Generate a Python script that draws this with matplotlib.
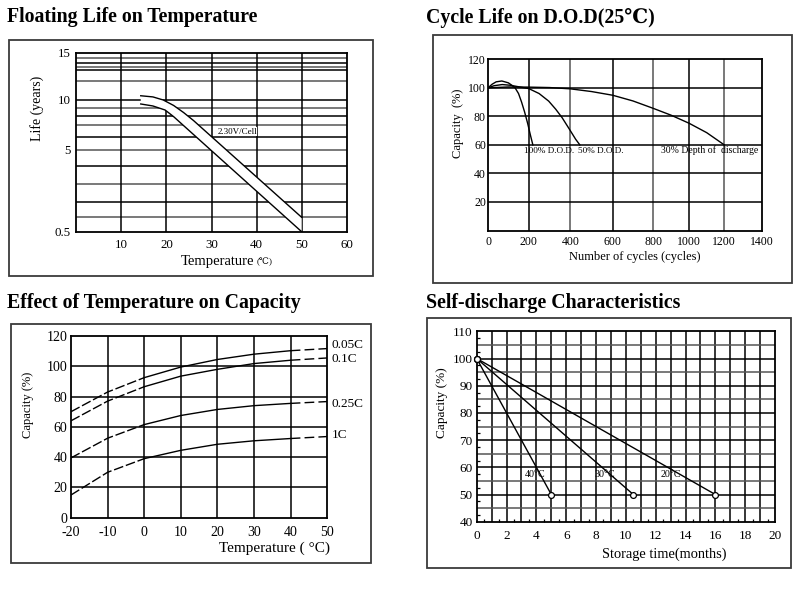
import numpy as np
import matplotlib
matplotlib.use('Agg')
import matplotlib.pyplot as plt
from matplotlib.patches import Rectangle

W, H = 807, 590
plt.rcParams['font.family'] = ['Liberation Serif', 'DejaVu Serif']

# ---------------- data ----------------
# Floating life on temperature (years vs degC), two boundary curves
float_temp_upper = [14.3, 17, 19.3, 21.6, 23.8, 26, 50]
float_life_upper = [10.22, 10.16, 10.0, 9.34, 8.43, 7.5, 1.0]
float_temp_lower = [14.3, 17, 19.7, 21.6, 50]
float_life_lower = [9.52, 9.28, 8.77, 7.9, 0.5]
float_xticks = [10, 20, 30, 40, 50, 60]
float_yticks = [0.5, 5, 10, 15]
float_ytick_labels = ['0.5', '5', '10', '15']
# non-uniform printed life axis (value -> printed height)
life_scale_years = [0.5, 1, 2, 3, 4, 5, 6, 7, 8, 9, 10, 11, 12, 13, 14, 14.5, 15]
life_scale_pos = [0, 14.4, 30, 48, 65.7, 81.7, 94.4, 106.4, 116, 123.4, 131.7,
                  151, 161.7, 165, 169, 173.4, 179]

# Cycle life on D.O.D
dod100_cycles = [0, 20, 40, 68, 100, 120, 133, 150, 165, 180, 195, 208, 220]
dod100_cap = [100, 102.5, 104.2, 104.8, 103.5, 101.5, 100, 96, 90, 83, 75, 67, 60]
dod50_cycles = [0, 30, 70, 110, 160, 200, 250, 296, 330, 361, 400, 425, 445]
dod50_cap = [100, 101.5, 102.3, 101.8, 100.5, 99.5, 96, 90.7, 85, 79, 70, 64, 60]
dod30_cycles = [0, 100, 200, 300, 400, 500, 600, 700, 800, 900, 1000, 1100, 1200]
dod30_cap = [100, 100.6, 100.5, 100.2, 99.3, 97.4, 94.8, 90.8, 85.6, 80.8, 75.2, 68.6, 60]
cycle_xticks = [0, 200, 400, 600, 800, 1000, 1200, 1400]
cycle_yticks = [20, 40, 60, 80, 100, 120]
# printed cycle axis is not uniform
cycle_scale_vals = [0, 200, 400, 600, 800, 1000, 1200, 1400]
cycle_scale_pos = [0, 40.7, 82.3, 124.7, 165.3, 201, 236.3, 273.7]

# Effect of temperature on capacity
temp_c = [-20, -10, 0, 10, 20, 30, 40, 50]
cap_005c = [70, 83, 92.5, 99.5, 104.5, 108, 110.3, 111.7]
cap_01c = [64, 77, 86.5, 93.5, 98, 101.8, 104, 105.5]
cap_025c = [39.5, 52.5, 61.5, 67.5, 71.5, 74, 75.5, 76.7]
cap_1c = [15, 30, 39, 44.5, 48.5, 50.8, 52.3, 53.6]
rate_labels = ['0.05C', '0.1C', '0.25C', '1C']
rate_label_y = [114.3, 105.1, 75.4, 54.3]
temp_xticks = [-20, -10, 0, 10, 20, 30, 40, 50]
temp_xtick_labels = ['-20', '-10', '0', '10', '20', '30', '40', '50']
temp_yticks = [0, 20, 40, 60, 80, 100, 120]

# Self-discharge
sd_months_40 = [0, 5.0]
sd_cap_40 = [100, 50]
sd_months_30 = [0, 10.5]
sd_cap_30 = [100, 50]
sd_months_20 = [0, 16.0]
sd_cap_20 = [100, 50]
sd_labels = ['40°C', '30°C', '20°C']
sd_label_x = [3.2, 7.9, 12.3]
sd_label_y = 57.2
sd_xticks = list(range(0, 21, 2))
sd_yticks = list(range(40, 111, 10))

# ---------------- helpers ----------------
fig = plt.figure(figsize=(W / 100, H / 100), dpi=100)
fig.patch.set_facecolor('white')


def add_ax(x0, y0, x1, y1):
    return fig.add_axes([x0 / W, 1 - y1 / H, (x1 - x0) / W, (y1 - y0) / H])


def ftext(x, y, s, **kw):
    fig.text(x / W, 1 - y / H, s, **kw)


def frame(x0, y0, x1, y1):
    fig.add_artist(Rectangle((x0 / W, 1 - y1 / H), (x1 - x0) / W, (y1 - y0) / H,
                             transform=fig.transFigure, fill=False,
                             ec='#3a3a3a', lw=1.3))


def interp_fn(xk, yk):
    xk = np.asarray(xk, float)
    yk = np.asarray(yk, float)

    def f(v):
        v = np.asarray(v, float)
        out = np.interp(v, xk, yk)
        s0 = (yk[1] - yk[0]) / (xk[1] - xk[0])
        s1 = (yk[-1] - yk[-2]) / (xk[-1] - xk[-2])
        out = np.where(v < xk[0], yk[0] + (v - xk[0]) * s0, out)
        out = np.where(v > xk[-1], yk[-1] + (v - xk[-1]) * s1, out)
        return out
    return f


def style_ax(ax, size):
    for sp in ax.spines.values():
        sp.set_linewidth(1.3)
        sp.set_color('black')
    ax.tick_params(length=0, labelsize=size, colors='black')


TITLE = dict(fontsize=14.3, fontweight='bold', va='center', ha='left')
GRID = dict(color='black', lw=1.1, zorder=1)
GRID2 = dict(color='#555555', lw=1.1, zorder=1)
LINE = dict(color='black', lw=1.0, zorder=3)

# ---------------- Floating life ----------------
frame(9, 40, 373, 276)
ftext(7, 17, 'Floating Life on Temperature', **TITLE)
ax1 = add_ax(76.3, 52.7, 346.7, 231.7)
ax1.set_yscale('function', functions=(interp_fn(life_scale_years, life_scale_pos),
                                      interp_fn(life_scale_pos, life_scale_years)))
ax1.set_xlim(0, 60)
ax1.set_ylim(0.5, 15)
for i, v in enumerate(life_scale_years[1:-1]):
    ax1.axhline(v, **(GRID if i % 2 else GRID2))
for v in float_xticks[:-1]:
    ax1.axvline(v, **GRID)
poly_x = np.concatenate([float_temp_upper, float_temp_lower[::-1]])
poly_y = np.concatenate([float_life_upper, float_life_lower[::-1]])
ax1.fill(poly_x, poly_y, color='white', zorder=2, lw=0)
ax1.plot(float_temp_upper, float_life_upper, **LINE)
ax1.plot(float_temp_lower, float_life_lower, **LINE)
ax1.text(31.3, 6.45, '2.30V/Cell', fontsize=6.5, va='center', ha='left', zorder=4,
         bbox=dict(fc='white', ec='none', pad=0.3))
ax1.set_xticks(float_xticks)
ax1.set_xticklabels([str(v) for v in float_xticks])
ax1.set_yticks(float_yticks)
ax1.set_yticklabels(float_ytick_labels)
ax1.minorticks_off()
style_ax(ax1, 9.3)
ax1.tick_params(axis='x', pad=5)
ax1.tick_params(axis='y', pad=4)
ftext(37, 108, 'Life (years)', fontsize=10, rotation=90, ha='center', va='center')
ftext(254, 261.7, 'Temperature', fontsize=10.5, ha='right', va='center')
ftext(257, 261.7, '(℃)', fontsize=6.5, ha='left', va='center')

# ---------------- Cycle life ----------------
frame(433.3, 35, 792.3, 282.7)
ftext(426, 18, 'Cycle Life on D.O.D(25℃)', **TITLE)
ax2 = add_ax(488, 59.3, 761.7, 230.5)
ax2.set_xscale('function', functions=(interp_fn(cycle_scale_vals, cycle_scale_pos),
                                      interp_fn(cycle_scale_pos, cycle_scale_vals)))
ax2.set_xlim(0, 1400)
ax2.set_ylim(0, 120)
for v in cycle_xticks[1:-1]:
    ax2.axvline(v, **(GRID if v % 400 else GRID2))
for v in cycle_yticks[:-1]:
    ax2.axhline(v, **GRID)
ax2.plot(dod100_cycles, dod100_cap, **LINE)
ax2.plot(dod50_cycles, dod50_cap, **LINE)
ax2.plot(dod30_cycles, dod30_cap, **LINE)
ax2.text(178, 56, '100% D.O.D.', fontsize=6.6, ha='left', va='center', zorder=4)
ax2.text(435, 56, '50% D.O.D.', fontsize=6.6, ha='left', va='center', zorder=4)
ax2.text(843, 56, '30% Depth of  discharge', fontsize=7, ha='left', va='center', zorder=4)
ax2.set_xticks(cycle_xticks)
ax2.set_xticklabels([str(v) for v in cycle_xticks])
ax2.set_yticks(cycle_yticks)
ax2.set_yticklabels([str(v) for v in cycle_yticks])
ax2.minorticks_off()
style_ax(ax2, 8.5)
ax2.tick_params(axis='x', pad=4)
ax2.tick_params(axis='y', pad=1.5)
ftext(458.3, 123.7, 'Capacity  (%)', fontsize=9, rotation=90, ha='center', va='center')
ftext(635, 256.7, 'Number of cycles (cycles)', fontsize=9, ha='center', va='center')

# ---------------- Temperature vs capacity ----------------
frame(10.7, 324.3, 371, 563.3)
ftext(7, 303, 'Effect of Temperature on Capacity', **TITLE)
ax3 = add_ax(71, 336, 327.3, 517.7)
ax3.set_xlim(-20, 50)
ax3.set_ylim(0, 120)
for v in temp_xticks[1:-1]:
    ax3.axvline(v, **GRID)
for v in temp_yticks[1:-1]:
    ax3.axhline(v, **GRID)
tc = np.array(temp_c)
for series in (cap_005c, cap_01c, cap_025c, cap_1c):
    s = np.array(series)
    left = tc <= 0
    mid = (tc >= 0) & (tc <= 40)
    right = tc >= 40
    ax3.plot(tc[left], s[left], dashes=(7, 2), **LINE)
    ax3.plot(tc[mid], s[mid], **LINE)
    ax3.plot(tc[right], s[right], dashes=(7, 3), **LINE)
for lab, yv in zip(rate_labels, rate_label_y):
    ax3.text(51.1, yv, lab, fontsize=9.5, ha='left', va='center', clip_on=False)
ax3.set_xticks(temp_xticks)
ax3.set_xticklabels(temp_xtick_labels)
ax3.set_yticks(temp_yticks)
ax3.set_yticklabels([str(v) for v in temp_yticks])
style_ax(ax3, 10)
ax3.tick_params(axis='x', pad=6)
ax3.tick_params(axis='y', pad=2.5)
ftext(28.3, 405, 'Capacity (%)', fontsize=9, rotation=90, ha='center', va='center')
ftext(330, 548.3, 'Temperature ( °C)', fontsize=11, ha='right', va='center')

# ---------------- Self-discharge ----------------
frame(427.3, 318.3, 791, 568.3)
ftext(426, 303, 'Self-discharge Characteristics', **TITLE)
ax4 = add_ax(476.7, 331.3, 775, 521.7)
ax4.set_xlim(0, 20)
ax4.set_ylim(40, 110)
for v in range(1, 20):
    ax4.axvline(v, **GRID)
for v in range(45, 110, 5):
    ax4.axhline(v, **(GRID if v % 10 == 0 else GRID2))
for mx, cy in ((sd_months_40, sd_cap_40), (sd_months_30, sd_cap_30),
               (sd_months_20, sd_cap_20)):
    ax4.plot(mx, cy, marker='o', ms=4.2, mfc='white', mec='black', mew=0.9,
             clip_on=False, **LINE)
for lab, xv in zip(sd_labels, sd_label_x):
    ax4.text(xv, sd_label_y, lab, fontsize=7.2, ha='left', va='center', zorder=4)
ax4.set_xticks(sd_xticks)
ax4.set_xticklabels([str(v) for v in sd_xticks])
ax4.set_yticks(sd_yticks)
ax4.set_yticklabels([str(v) for v in sd_yticks])
ax4.set_xticks(np.arange(0.5, 20, 1.0), minor=True)
ax4.set_yticks(np.arange(42.5, 110, 5.0), minor=True)
style_ax(ax4, 9.5)
ax4.tick_params(which='minor', direction='in', length=2.5, width=0.9, color='black')
ax4.tick_params(axis='x', which='major', pad=6)
ax4.tick_params(axis='y', which='major', pad=3)
ftext(441.7, 403, 'Capacity (%)', fontsize=9.5, rotation=90, ha='center', va='center')
ftext(664, 554, 'Storage time(months)', fontsize=10.4, ha='center', va='center')

fig.savefig('out.png', dpi=100, facecolor='white')
